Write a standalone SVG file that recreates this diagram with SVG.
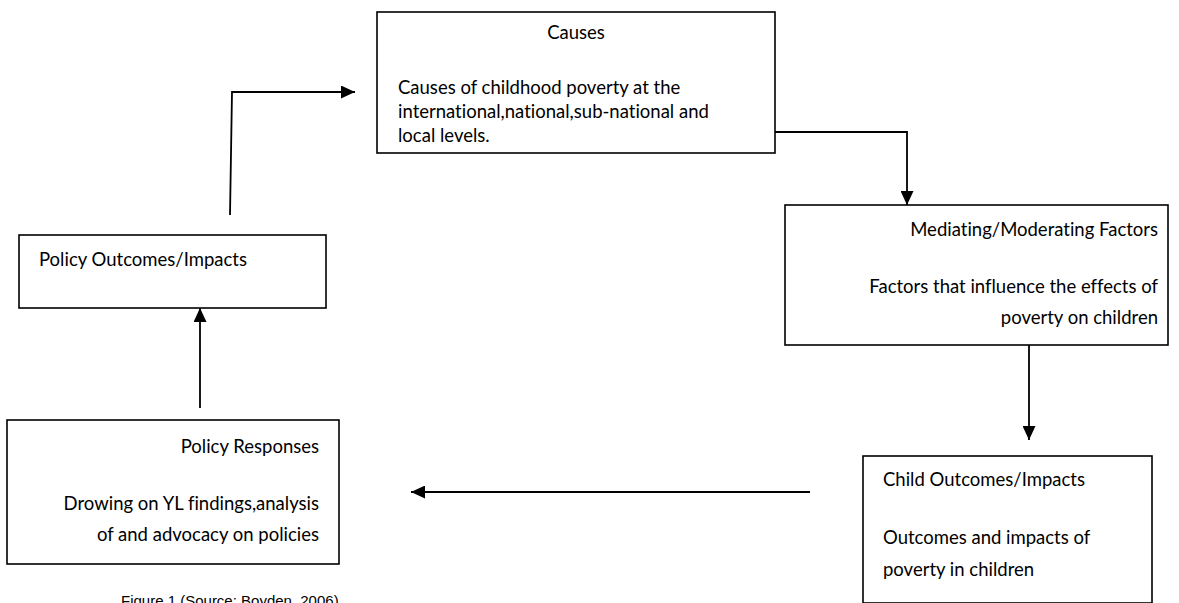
<svg xmlns="http://www.w3.org/2000/svg" width="1179" height="603" viewBox="0 0 1179 603">
<defs>
<style>
.box{fill:#fff;stroke:#000;stroke-width:1.6}
.t{font-family:Lato,"Liberation Sans",sans-serif;font-size:18.5px;fill:#000;font-variant-ligatures:none}
.r{text-anchor:end}
.c{text-anchor:middle}
.cap{font-family:"Liberation Sans",Arial,sans-serif;font-size:15px;fill:#000}
.ln{fill:none;stroke:#000;stroke-width:1.8}
</style>
<marker id="ah" markerWidth="14" markerHeight="13" viewBox="0 0 14 13" refX="14" refY="6.5" orient="auto" markerUnits="userSpaceOnUse">
<path d="M0,0 L14,6.5 L0,13 Z" fill="#000"/>
</marker>
</defs>
<rect width="1179" height="603" fill="#fff"/>
<g id="causes">
<rect class="box" x="377" y="12" width="398" height="141"/>
<text class="t c" x="576" y="39">Causes</text>
<text class="t" x="398" y="94">Causes of childhood poverty at the</text>
<text class="t" x="398" y="118">international,national,sub-national and</text>
<text class="t" x="398" y="142">local levels.</text>
</g>
<g id="mediating">
<rect class="box" x="785" y="205" width="383" height="140"/>
<text class="t r" x="1158" y="236">Mediating/Moderating Factors</text>
<text class="t r" x="1158" y="293">Factors that influence the effects of</text>
<text class="t r" x="1158" y="324">poverty on children</text>
</g>
<g id="child">
<rect class="box" x="863" y="456" width="289" height="147"/>
<text class="t" x="883" y="486">Child Outcomes/Impacts</text>
<text class="t" x="883" y="544">Outcomes and impacts of</text>
<text class="t" x="883" y="576">poverty in children</text>
</g>
<g id="responses">
<rect class="box" x="7" y="420" width="332" height="144"/>
<text class="t r" x="319" y="453">Policy Responses</text>
<text class="t r" x="319" y="510">Drowing on YL findings,analysis</text>
<text class="t r" x="319" y="541">of and advocacy on policies</text>
</g>
<g id="outcomes">
<rect class="box" x="19" y="235" width="307" height="73"/>
<text class="t" x="39" y="266">Policy Outcomes/Impacts</text>
</g>
<g id="caption">
<text class="cap" x="121" y="606">Figure 1 (Source: Boyden, 2006)</text>
</g>
<g id="connectors">
<path class="ln" d="M230,215 L232,92 L355,92" marker-end="url(#ah)"/>
<path class="ln" d="M775,132 L907,132 L907,205" marker-end="url(#ah)"/>
<path class="ln" d="M1029,345 L1029,440" marker-end="url(#ah)"/>
<path class="ln" d="M810,492 L411,492" marker-end="url(#ah)"/>
<path class="ln" d="M200,408 L200,308" marker-end="url(#ah)"/>
</g>
</svg>
